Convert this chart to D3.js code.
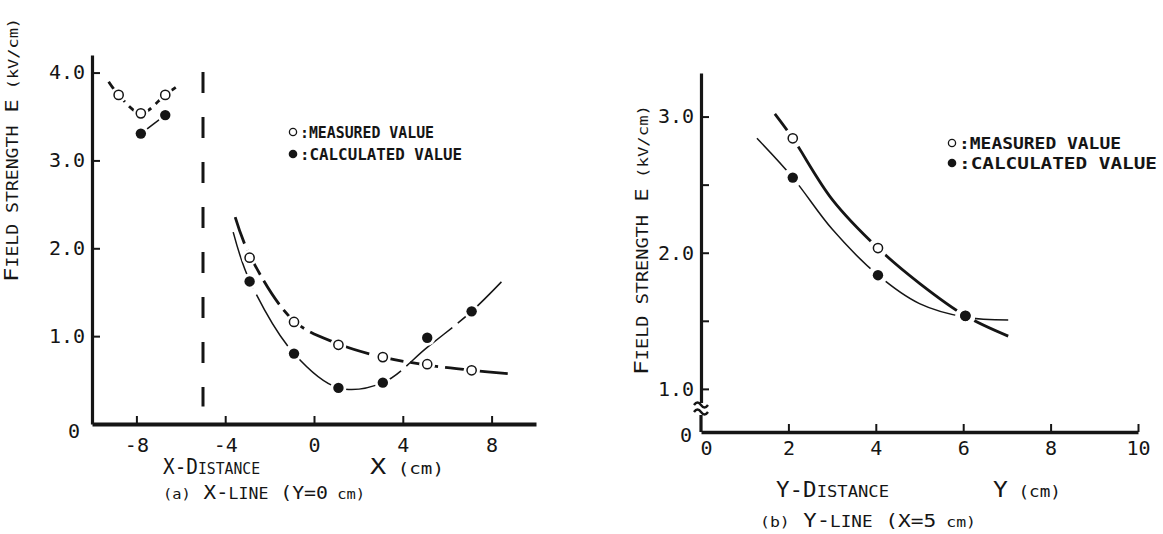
<!DOCTYPE html>
<meta charset="utf-8">
<style>
  body { margin: 0; background: #fff; }
  svg { display: block; background: #fff; }
  text { font-family: "DejaVu Sans Mono", monospace; fill: #151515; }
  .axis path, .axis line { stroke: #151515; }
  .axis text { font-size: 20px; font-family: "DejaVu Sans Mono", monospace; }
  .curve { fill: none; stroke: #151515; }
  .legend { font-weight: bold; }
</style>
<body>
<svg id="chart" width="1163" height="534"></svg>
<script src="https://d3js.org/d3.v7.min.js"></script>
<script>
// ---- panel (a): X-line, Y = 0 cm ----
const xTicksA = [-8, -4, 0, 4, 8];
const yTicksA = [1, 2, 3, 4];
const yTickLabelsA = ["1.0", "2.0", "3.0", "4.0"];

const measuredXA = [-8.8, -7.8, -6.7, -2.9, -0.9, 1.1, 3.1, 5.1, 7.1];
const measuredYA = [3.74, 3.53, 3.74, 1.89, 1.16, 0.90, 0.76, 0.68, 0.61];
const calculatedXA = [-7.8, -6.7, -2.9, -0.9, 1.1, 3.1, 5.1, 7.1];
const calculatedYA = [3.30, 3.51, 1.62, 0.80, 0.41, 0.47, 0.98, 1.28];

// fitted curves
const measuredCurveA1 = [[-9.25, 3.89], [-8.8, 3.74], [-7.8, 3.53], [-6.7, 3.74], [-6.15, 3.84]];
const calculatedCurveA1 = [[-7.8, 3.30], [-6.7, 3.51]];
const measuredCurveA2 = [[-3.55, 2.35], [-2.9, 1.92], [-0.9, 1.17], [1.1, 0.91], [3.1, 0.76], [5.1, 0.67], [7.1, 0.61], [8.9, 0.57]];
const calculatedCurveA2 = [[-3.64, 2.18], [-2.9, 1.63], [-0.9, 0.80], [1.1, 0.41], [3.1, 0.47], [5.1, 0.87], [7.1, 1.28], [8.5, 1.63]];
const electrodeA = [[-5, 4.0], [-5, 0.2]];

// ---- panel (b): Y-line, X = 5 cm ----
const xTicksB = [0, 2, 4, 6, 8, 10];
const yTicksB = [1, 1.5, 2, 2.5, 3];
const yTickLabelsB = ["1.0", "", "2.0", "", "3.0"];

const measuredXB = [2.1, 4.05, 6.05];
const measuredYB = [2.85, 2.04, 1.54];
const calculatedXB = [2.1, 4.05, 6.05];
const calculatedYB = [2.56, 1.84, 1.54];

const measuredCurveB = [[1.69, 3.03], [2.1, 2.85], [3.0, 2.40], [4.05, 2.04], [5.0, 1.78], [6.05, 1.54], [7.03, 1.39]];
const calculatedCurveB = [[1.28, 2.85], [2.1, 2.56], [3.0, 2.18], [4.05, 1.84], [5.0, 1.63], [6.05, 1.53], [7.03, 1.51]];

const svg = d3.select("#chart");

// small helper for text made of tspans (small caps look)
function label(g, x, y, parts, opts = {}) {
  const t = g.append("text").attr("x", x).attr("y", y);
  if (opts.rotate) t.attr("transform", `rotate(-90,${x},${y})`);
  if (opts.length) t.attr("textLength", opts.length).attr("lengthAdjust", "spacingAndGlyphs");
  if (opts.cls) t.attr("class", opts.cls);
  parts.forEach(p => {
    const s = t.append("tspan").text(p[0]).style("font-size", p[1] + "px");
    if (p[2] != null) s.attr("dx", p[2]);
  });
  return t;
}

function zip(xs, ys) { return xs.map((x, i) => [x, ys[i]]); }

function drawPoints(g, x, y, meas, calc, halo) {
  const all = meas.concat(calc);
  g.selectAll(null).data(all).join("circle")
    .attr("cx", d => x(d[0])).attr("cy", d => y(d[1]))
    .attr("r", halo).attr("fill", "#fff");
  g.selectAll(null).data(meas).join("circle")
    .attr("cx", d => x(d[0])).attr("cy", d => y(d[1]))
    .attr("r", 4.6).attr("fill", "#fff").attr("stroke", "#151515").attr("stroke-width", 1.5);
  g.selectAll(null).data(calc).join("circle")
    .attr("cx", d => x(d[0])).attr("cy", d => y(d[1]))
    .attr("r", 5.2).attr("fill", "#151515");
}

// ================= panel (a) =================
const gA = svg.append("g");
const xA = d3.scaleLinear().domain([-10, 10]).range([92, 536]);
const yA = d3.scaleLinear().domain([0, 4]).range([424, 72]);
const lineA = d3.line().x(d => xA(d[0])).y(d => yA(d[1])).curve(d3.curveCatmullRom.alpha(0.5));

gA.append("g").attr("class", "axis")
  .attr("transform", `translate(0,${yA(0)})`)
  .call(d3.axisBottom(xA).tickValues(xTicksA).tickSizeInner(-8).tickSizeOuter(0).tickPadding(14)
    .tickFormat(d => d < 0 ? "-" + Math.abs(d) : d))
  .call(a => a.select(".domain").attr("stroke-width", 4))
  .call(a => a.selectAll(".tick line").attr("stroke-width", 2));

gA.append("g").attr("class", "axis")
  .attr("transform", `translate(${xA(-10)},0)`)
  .call(d3.axisLeft(yA.copy().domain([0, 4.2]).range([424, 55])).tickValues(yTicksA)
    .tickSizeInner(-8).tickSizeOuter(0).tickPadding(7)
    .tickFormat((d, i) => yTickLabelsA[i]))
  .call(a => a.select(".domain").attr("stroke-width", 3.2))
  .call(a => a.selectAll(".tick line").attr("stroke-width", 2));

gA.append("text").attr("x", xA(-10) - 12).attr("y", yA(0) + 14)
  .attr("text-anchor", "end").style("font-size", "20px").text("0");

// electrode boundary
gA.append("path").datum(electrodeA).attr("class", "curve")
  .attr("d", d3.line().x(d => xA(d[0])).y(d => yA(d[1])))
  .attr("stroke-width", 3).attr("stroke-dasharray", "21,24");

gA.append("path").datum(measuredCurveA1).attr("class", "curve").attr("d", lineA)
  .attr("stroke-width", 2.8).attr("stroke-dasharray", "10,6");
gA.append("path").datum(calculatedCurveA1).attr("class", "curve").attr("d", lineA)
  .attr("stroke-width", 1.5);
gA.append("path").datum(measuredCurveA2).attr("class", "curve").attr("d", lineA)
  .attr("stroke-width", 2.8).attr("stroke-dasharray", "28,7");
gA.append("path").datum(calculatedCurveA2).attr("class", "curve").attr("d", lineA)
  .attr("stroke-width", 1.5).attr("stroke-dasharray", "60,7");

drawPoints(gA, xA, yA, zip(measuredXA, measuredYA), zip(calculatedXA, calculatedYA), 8);

// legend (a)
gA.append("circle").attr("cx", 293).attr("cy", 132).attr("r", 3.6)
  .attr("fill", "#fff").attr("stroke", "#151515").attr("stroke-width", 1.3);
label(gA, 300, 138, [[":MEASURED VALUE", 16]], { length: 134, cls: "legend" });
gA.append("circle").attr("cx", 293).attr("cy", 154).attr("r", 4.3).attr("fill", "#151515");
label(gA, 300, 160, [[":CALCULATED VALUE", 16]], { length: 162, cls: "legend" });

// axis titles (a)
label(gA, 18, 282, [["F", 20], ["IELD STRENGTH", 15], ["  E", 18], ["  (kV/cm)", 14]], { rotate: true, length: 264 });
label(gA, 163, 474, [["X-D", 21], ["ISTANCE", 16]], { length: 97 });
label(gA, 370, 474, [["X", 21], ["  (cm)", 15]], { length: 74 });
label(gA, 163, 499, [["(a)", 14], ["  X-", 19], ["LINE", 15], ["  (Y=0", 18], [" cm)", 14]], { length: 202 });

// ================= panel (b) =================
const gB = svg.append("g");
const xB = d3.scaleLinear().domain([0, 10]).range([701, 1138]);
const yB = d3.scaleLinear().domain([1, 3]).range([389, 118]);
const yZeroB = 432;
const lineB = d3.line().x(d => xB(d[0])).y(d => yB(d[1])).curve(d3.curveCatmullRom.alpha(0.5));

gB.append("g").attr("class", "axis")
  .attr("transform", `translate(0,${yZeroB})`)
  .call(d3.axisBottom(xB).tickValues(xTicksB).tickSizeInner(-8).tickSizeOuter(0).tickPadding(9))
  .call(a => a.select(".domain").attr("stroke-width", 3.6))
  .call(a => a.selectAll(".tick line").attr("stroke-width", 2))
  .call(a => a.selectAll(".tick").filter(d => d === 0).select("line").remove())
  .call(a => a.selectAll(".tick").filter(d => d === 0).select("text").attr("dx", 5));

gB.append("g").attr("class", "axis")
  .attr("transform", `translate(${xB(0)},0)`)
  .call(d3.axisLeft(yB.copy().domain([0.9, 3.32]).range([402.5, 73])).tickValues(yTicksB)
    .tickSizeInner(-8).tickSizeOuter(0).tickPadding(7)
    .tickFormat((d, i) => yTickLabelsB[i]))
  .call(a => a.select(".domain").attr("stroke-width", 3.2))
  .call(a => a.selectAll(".tick line").attr("stroke-width", 2));

// axis break near the origin
const brk = yB(1) + 14;
gB.append("line").attr("x1", xB(0)).attr("x2", xB(0)).attr("y1", brk + 12).attr("y2", yZeroB)
  .attr("stroke", "#151515").attr("stroke-width", 3.2);
[0, 7].forEach(dy => {
  gB.append("path").attr("class", "curve").attr("stroke-width", 2.4)
    .attr("d", `M${xB(0) - 7},${brk + dy + 2} q3.5,-5 7,0 t7,0`);
});
gB.append("text").attr("x", xB(0) - 9).attr("y", yZeroB + 10)
  .attr("text-anchor", "end").style("font-size", "20px").text("0");

gB.append("path").datum(measuredCurveB).attr("class", "curve").attr("d", lineB)
  .attr("stroke-width", 2.8);
gB.append("path").datum(calculatedCurveB).attr("class", "curve").attr("d", lineB)
  .attr("stroke-width", 1.5);

drawPoints(gB, xB, yB, zip(measuredXB, measuredYB), zip(calculatedXB, calculatedYB), 10);

// legend (b)
gB.append("circle").attr("cx", 952).attr("cy", 143).attr("r", 3.6)
  .attr("fill", "#fff").attr("stroke", "#151515").attr("stroke-width", 1.3);
label(gB, 959, 149, [[":MEASURED VALUE", 16]], { length: 162, cls: "legend" });
gB.append("circle").attr("cx", 952).attr("cy", 163).attr("r", 4.3).attr("fill", "#151515");
label(gB, 959, 169, [[":CALCULATED VALUE", 16]], { length: 198, cls: "legend" });

// axis titles (b)
label(gB, 648, 375, [["F", 20], ["IELD STRENGTH", 15], ["  E", 18], ["  (kV/cm)", 14]], { rotate: true, length: 270 });
label(gB, 776, 497, [["Y-D", 21], ["ISTANCE", 16]], { length: 113 });
label(gB, 993, 497, [["Y", 21], ["  (cm)", 15]], { length: 68 });
label(gB, 760, 527, [["(b)", 14], ["  Y-", 19], ["LINE", 15], ["  (X=5", 18], [" cm)", 14]], { length: 216 });
</script>
</body>
</html>
